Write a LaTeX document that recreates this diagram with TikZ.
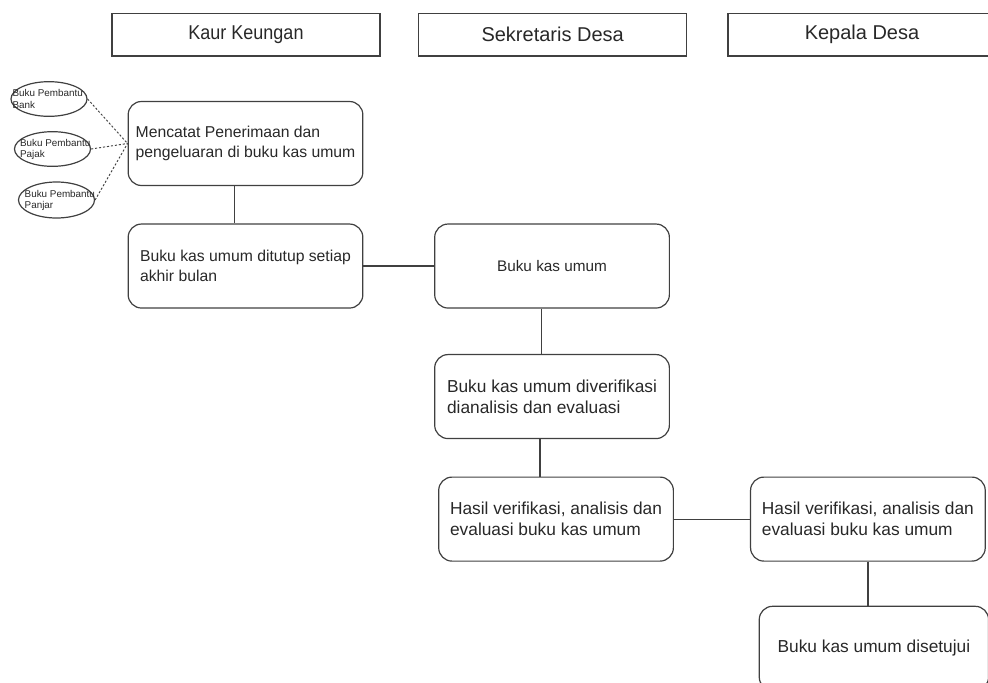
\documentclass[tikz,border=0pt]{standalone}
\usepackage{fontspec}
\setmainfont{Liberation Sans}
\usepackage{graphicx}
\usetikzlibrary{shapes.geometric, positioning}
\definecolor{linegray}{RGB}{64, 64, 64}
\definecolor{textgray}{RGB}{40, 40, 40}

\begin{document}
\begin{tikzpicture}[
    x=0.75pt, y=-0.75pt,
    header/.style={rectangle, draw=linegray, line width=1pt, minimum width=201pt, minimum height=32pt, text=textgray, font=\fontsize{15pt}{18pt}\selectfont},
    proc/.style={rectangle, rounded corners=10pt, draw=linegray, line width=0.9pt, minimum width=176pt, minimum height=63pt, align=left, text=textgray, font=\fontsize{11.8pt}{14.5pt}\selectfont},
    procbig/.style={proc, font=\fontsize{13pt}{16pt}\selectfont},
    buku/.style={ellipse, draw=linegray, line width=0.9pt, minimum width=57pt, minimum height=26pt, inner sep=0pt},
    bukutext/.style={align=left, text=textgray, font=\fontsize{7.4pt}{8.3pt}\selectfont},
    link/.style={draw=linegray, line width=0.9pt},
    dotlink/.style={draw=linegray, line width=0.7pt, dash pattern=on 1.6pt off 1.4pt}
]
    \path[use as bounding box] (0,0) rectangle (988,682);
    \clip (0,0) rectangle (988,682);

    % lane headers
    \node (kaur) [header] at (246,34.5) {\scalebox{0.9}[1]{Kaur Keungan}};
    \node (sekdes) [header, right=28pt of kaur] {Sekretaris Desa};
    \node (kades) [header, right=30pt of sekdes] {Kepala Desa};

    % steps
    \node (catat) [proc] at (245.5,143.5) {Mencatat Penerimaan dan\\pengeluaran di buku kas umum};
    \node (tutup) [proc, below=28pt of catat] {Buku kas umum ditutup setiap\\akhir bulan};
    \node (bku) [proc, right=53pt of tutup, align=center, font=\fontsize{11.5pt}{14pt}\selectfont] {Buku kas umum};
    \node (verif) [procbig, below=34pt of bku] {Buku kas umum diverifikasi\\dianalisis dan evaluasi};
    \node (hasilsek) [procbig, below=28pt of verif, xshift=3pt] {Hasil verifikasi, analisis dan\\evaluasi buku kas umum};
    \node (hasilkd) [procbig, right=57pt of hasilsek] {Hasil verifikasi, analisis dan\\evaluasi buku kas umum};
    \node (setuju) [procbig, below=33pt of hasilkd, xshift=4.5pt, minimum width=172pt, align=center] {Buku kas umum disetujui};

    % buku pembantu
    \node (bank) [buku, label={[bukutext, xshift=-1pt]center:Buku Pembantu\\Bank}] at (49,99) {};
    \node (pajak) [buku, label={[bukutext, xshift=2pt]center:Buku Pembantu\\Pajak}] at (52.5,149) {};
    \node (panjar) [buku, minimum height=27pt, label={[bukutext, xshift=2.5pt]center:Buku Pembantu\\Panjar}] at (56.5,200) {};

    \foreach \b in {bank, pajak, panjar}
        \draw [dotlink] (\b.east) -- (catat.west);

    \draw [link] ([xshift=-8pt]catat.south) -- ([xshift=-8pt]tutup.north);
    \draw [link] (tutup.east) -- (bku.west);
    \draw [link] ([xshift=-8pt]bku.south) -- ([xshift=-8pt]verif.north);
    \draw [link] ([xshift=-9pt]verif.south) -- ([xshift=-12pt]hasilsek.north);
    \draw [link] (hasilsek.east) -- (hasilkd.west);
    \draw [link] (hasilkd.south) -- ([xshift=-4.5pt]setuju.north);
\end{tikzpicture}
\end{document}
